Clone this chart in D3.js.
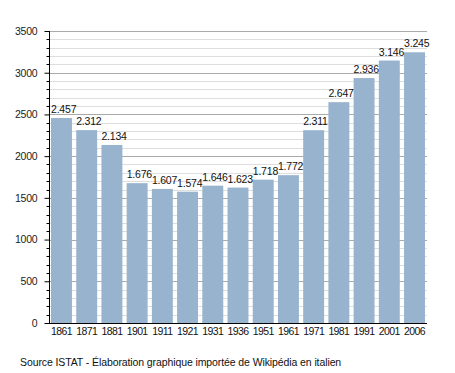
<!DOCTYPE html>
<html>
<head>
<meta charset="utf-8">
<script src="https://cdn.jsdelivr.net/npm/d3@7"></script>
<style>
  body { margin: 0; background: #fff; }
  text { font-family: "Liberation Sans", Arial, sans-serif; }
</style>
</head>
<body>
<svg id="chart" width="455" height="373"></svg>
<script>
// dati censimento
var years = ["1861","1871","1881","1901","1911","1921","1931","1936","1951","1961","1971","1981","1991","2001","2006"];
var population = [2457, 2312, 2134, 1676, 1607, 1574, 1646, 1623, 1718, 1772, 2311, 2647, 2936, 3146, 3245];
var labels = ["2.457","2.312","2.134","1.676","1.607","1.574","1.646","1.623","1.718","1.772","2.311","2.647","2.936","3.146","3.245"];
var majorTicks = [0, 500, 1000, 1500, 2000, 2500, 3000, 3500];
var source = "Source ISTAT - Élaboration graphique importée de Wikipédia en italien";

var svg = d3.select("#chart");
var mLeft = 49, mRight = 427, mTop = 31, mBottom = 323;

var x = d3.scaleBand().domain(years).range([mLeft, mRight]).paddingInner(0.17).paddingOuter(0.08);
var y = d3.scaleLinear().domain([0, 3500]).range([mBottom, mTop]);

// griglia secondaria ogni 100
var minor = d3.range(100, 3500, 100).filter(v => v % 500 != 0);
svg.append("g").selectAll("line").data(minor).enter().append("line")
    .attr("x1", mLeft).attr("x2", mRight)
    .attr("y1", d => Math.round(y(d)) + 0.5).attr("y2", d => Math.round(y(d)) + 0.5)
    .attr("stroke", "#dedede").attr("stroke-width", 1);
svg.append("g").selectAll("line").data(majorTicks.slice(1)).enter().append("line")
    .attr("x1", mLeft).attr("x2", mRight)
    .attr("y1", d => Math.round(y(d)) + 0.5).attr("y2", d => Math.round(y(d)) + 0.5)
    .attr("stroke", "#aaaaaa").attr("stroke-width", 1);

// barre
svg.append("g").selectAll("rect").data(population).enter().append("rect")
    .attr("x", (d, i) => x(years[i]))
    .attr("y", d => y(d))
    .attr("width", x.bandwidth())
    .attr("height", d => mBottom - y(d))
    .attr("fill", "#98b3ce");

svg.append("g").selectAll("text").data(population).enter().append("text")
    .attr("x", (d, i) => x(years[i]))
    .attr("y", d => y(d) - 5)
    .attr("font-size", 10.5)
    .attr("letter-spacing", -0.2)
    .attr("fill", "#111")
    .text((d, i) => labels[i]);

// asse y
var yAxis = d3.axisLeft(y).tickValues(majorTicks).tickSize(5).tickPadding(7).tickFormat(d3.format("d"));
var gy = svg.append("g").attr("transform", "translate(" + (mLeft + 0.5) + ",0)").call(yAxis);
gy.selectAll("text").attr("font-size", 10.5).attr("letter-spacing", -0.2).attr("fill", "#222").style("font-family", "Liberation Sans, Arial, sans-serif");
gy.selectAll(".tick line").attr("stroke", "#000");
gy.select(".domain").attr("stroke", "#000").attr("d", "M0," + mTop + "V" + mBottom);
gy.append("g").selectAll("line").data(minor).enter().append("line")
    .attr("x1", -3).attr("x2", 0)
    .attr("y1", d => Math.round(y(d)) + 0.5).attr("y2", d => Math.round(y(d)) + 0.5)
    .attr("stroke", "#000");

// asse x
var xAxis = d3.axisBottom(x).tickSize(0).tickPadding(5);
var gx = svg.append("g").attr("transform", "translate(0," + mBottom + ")").call(xAxis);
gx.selectAll("text").attr("font-size", 10.5).attr("letter-spacing", -0.6).attr("fill", "#111").style("font-family", "Liberation Sans, Arial, sans-serif");
gx.select(".domain").attr("stroke", "#000").attr("d", "M" + (mLeft - 4) + ",0.5H" + mRight);

svg.append("text")
    .attr("x", 20).attr("y", 366)
    .attr("font-size", 10.5)
    .attr("letter-spacing", -0.1)
    .attr("fill", "#111")
    .text(source);
</script>
</body>
</html>
